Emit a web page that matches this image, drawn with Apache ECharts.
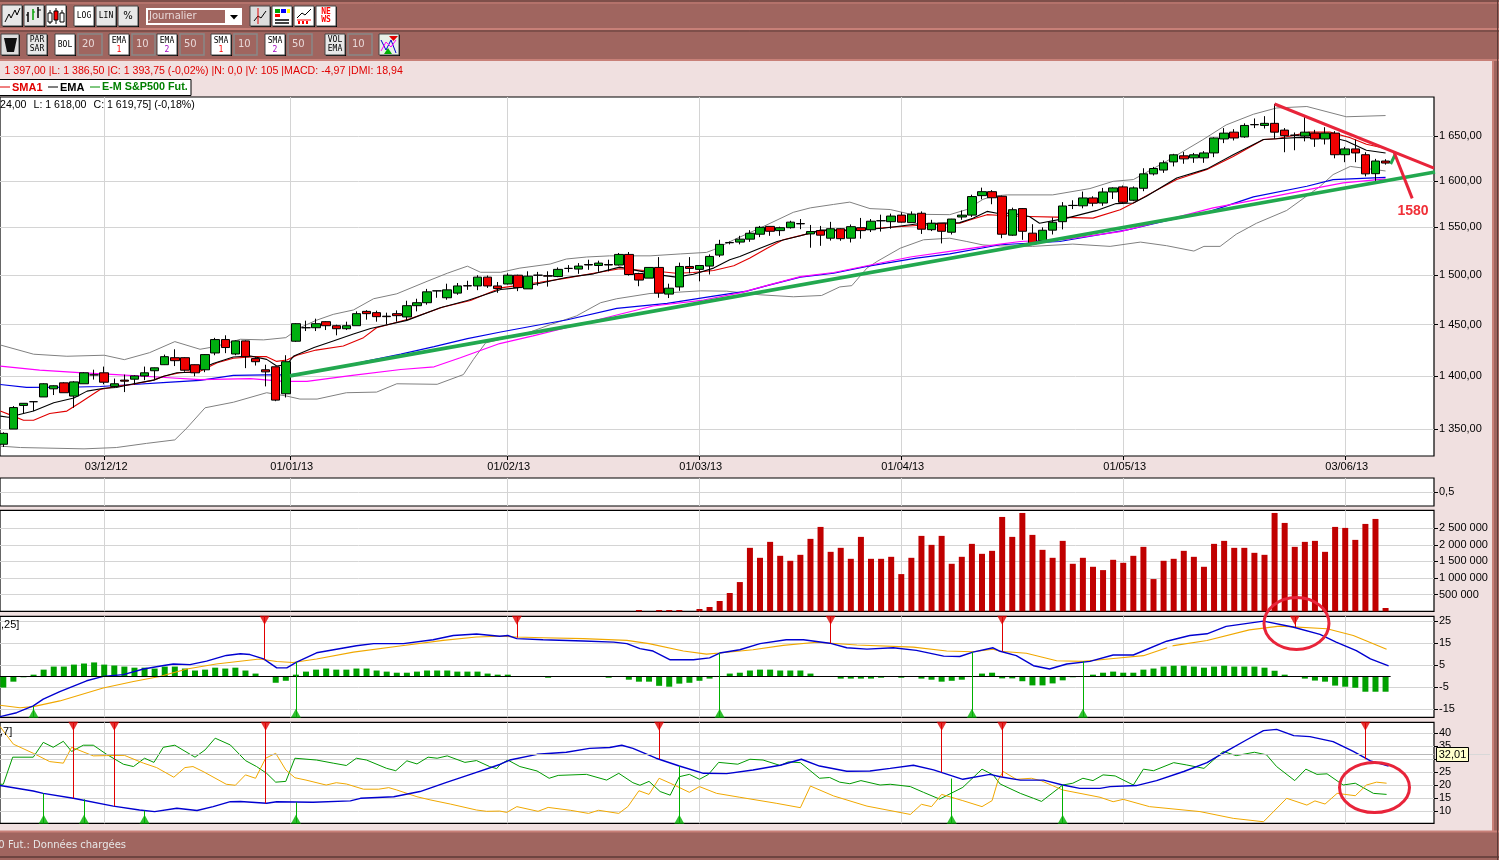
<!DOCTYPE html>
<html><head><meta charset="utf-8">
<script src="https://cdn.jsdelivr.net/npm/echarts@6/dist/echarts.min.js"></script>
<style>html,body{margin:0;padding:0;background:#f0e0e0;overflow:hidden}#c{width:1499px;height:860px}</style>
</head><body><div id="c"></div>
<script>
// open, close, low, high for each trading day
const candles=[
[1336,1346,1333.5,1347],[1350,1370,1350,1371.4],[1372,1374,1364.5,1374],[1375.5,1375.5,1366.7,1375.5],[1380,1392.5,1380,1393],
[1387.7,1390.6,1381.8,1391],[1393.4,1384,1384,1394],[1380.8,1394.3,1369.8,1395],[1392.5,1403,1392.5,1403.6],[1401,1401,1396.5,1406],
[1403,1394,1392,1409],[1390,1392.5,1388.7,1397.5],[1396,1395,1384.6,1401.3],[1396.9,1400,1391.8,1400.6],[1400,1403,1396,1409],
[1405,1407.8,1397,1408],[1410.8,1418.6,1410.5,1420.6],[1417.6,1414.7,1409.5,1425.8],[1417.6,1405.5,1404,1418],[1410.8,1403,1399.7,1411],
[1405.9,1420.6,1403.6,1421],[1422.2,1435.3,1420,1437],[1435.3,1427.5,1422,1439.5],[1421.2,1434,1420,1434.5],[1434,1418.6,1407.5,1434.5],
[1416.7,1413.7,1410,1418],[1405.9,1403.9,1390,1410.8],[1408.8,1377,1376,1409],[1383,1413.7,1379.5,1420],[1433.7,1451,1433,1451.5],
[1447,1447,1443.7,1454],[1447,1451,1443.7,1456],[1453,1449,1444.7,1453.5],[1449,1446,1439.5,1450],[1446,1449,1444.7,1453],
[1449,1461,1449,1463.3],[1463.3,1461,1455,1464.5],[1462,1458,1453,1464],[1458.5,1458,1450.3,1462],[1461,1459,1453,1464.3],
[1457.7,1469,1453.7,1474],[1469,1472,1463.3,1476],[1472,1483,1470,1486],[1484,1484,1477,1484],[1477,1485,1475,1491.3],
[1481.7,1489,1480,1492],[1489.3,1489,1485,1494.3],[1489,1498,1484.7,1500],[1498,1489,1487,1499.7],[1489,1486.3,1482,1493],
[1491,1500,1490.5,1502],[1500,1487.3,1483.7,1500.5],[1486,1499,1486,1504],[1500,1500,1489.3,1503.4],[1499.5,1499,1488.3,1504],
[1498.6,1506,1498,1508],[1507,1507,1503,1510.4],[1506.3,1509.4,1501.4,1512.5],[1511,1510.5,1505.5,1516],[1510,1512.5,1503.5,1515],
[1511,1510.5,1504,1516],[1510.5,1521.5,1510,1523],[1521.5,1500.7,1499.6,1524],[1501.7,1495,1488.7,1502.5],[1497,1508,1497,1508],
[1508,1481.7,1477,1518.7],[1480.7,1486.7,1476.7,1491.3],[1488,1509,1484,1513],[1509,1507,1502,1518.7],[1506,1510,1493.7,1510],
[1509.4,1519.4,1500.7,1521.5],[1520.8,1532,1518.7,1536.8],[1534,1533.7,1532,1535],[1534.4,1537.5,1532,1541],[1537.5,1543.7,1534.7,1547],
[1542.7,1550,1539.6,1551.5],[1551,1545.8,1541,1551],[1546.5,1549.6,1541,1550.7],[1549.6,1555.5,1548.6,1557],[1554,1553.7,1548,1558.8],
[1543,1545.5,1528.5,1552.5],[1546.5,1541.7,1530.5,1551.5],[1538.5,1548.5,1536,1555.8],[1548.5,1538,1535.8,1549],[1538.5,1550.7,1534,1553],
[1549.6,1546.5,1538,1560],[1547.4,1556.5,1545,1558.8],[1557,1557,1545.5,1563.5],[1556,1562,1548.5,1564.6],[1563,1555.5,1555,1566],
[1555,1564,1555,1567],[1565,1548,1543,1567],[1547.5,1554.4,1546,1558],[1554.4,1545.8,1533,1554.4],[1544.8,1558.8,1542.4,1559],
[1561,1563,1558,1568],[1563,1583,1561,1585],[1584,1588.3,1580,1592.7],[1588.3,1581.7,1574.7,1590],[1583.3,1542.7,1538.5,1584],
[1541.7,1568.8,1541,1571],[1570,1545.8,1536.8,1570.5],[1543.8,1532.6,1531.5,1553.3],[1536,1546.9,1535.5,1550],[1547,1555.4,1542.4,1560.5],
[1556,1572.8,1547.8,1577],[1573.5,1573.3,1569.5,1579],[1573,1581.5,1570.3,1588.4],[1581.5,1575.8,1572.5,1583.3],[1576,1588,1573,1592.4],
[1588,1592.4,1580.4,1593],[1593.5,1576.8,1575.4,1595],[1579,1592.4,1578,1594],[1592,1607.8,1588.8,1614],[1607.8,1613.7,1606,1615.5],
[1612,1620,1608.9,1622.6],[1621,1628.9,1616,1630],[1627.8,1624.4,1619,1632],[1625.5,1628.9,1620,1631],[1625.5,1631,1620,1633],
[1631,1647.8,1626.3,1648.5],[1646.7,1653.3,1642,1659],[1654.4,1647.8,1645,1657.8],[1649,1662,1648,1664.4],[1663,1662.8,1659,1670],
[1662,1664.4,1658.5,1672.6],[1664.4,1654.4,1647,1686.7],[1656.7,1650.4,1631.8,1659],[1651,1650.8,1634,1654],[1650,1654.4,1644,1671.8],
[1653.3,1646.7,1637.8,1657],[1646.7,1653.3,1640.5,1660],[1653.3,1629,1625,1655.5],[1629,1635.5,1620.7,1637.8],[1635.5,1631,1620.7,1646],
[1629,1607.8,1605,1631.8],[1608,1622,1599.6,1624.4],[1622,1619.75,1618,1624]];

const bollUpper=[[-.3,1430],[3,1421],[6.3,1419],[10,1420],[12,1415.7],[14.5,1422.5],[17,1433.3],[19.5,1425.8],[21,1428.4],[23.5,1435.6],[25.8,1435],[28,1437.2],[29.4,1447],[31,1454.3],[32.7,1460.3],[34.7,1464.7],[36.7,1476],[39,1481],[42,1493.7],[44,1502],[46,1509.3],[47.3,1503],[49.3,1503],[51.2,1507.3],[54.2,1511.5],[55.8,1516.7],[57.8,1518.8],[60.1,1520],[62.5,1520],[64.1,1520],[67.1,1522],[69.7,1523.6],[70.4,1526.4],[72.4,1536.8],[75.3,1550.7],[78.3,1566],[80,1570.8],[82.3,1574.5],[83.9,1577],[85.9,1570],[87.9,1569],[89.9,1564],[93.8,1563.5],[95.5,1569],[97.1,1580],[98.1,1583.6],[99.5,1584.8],[104,1584.8],[107.7,1591.7],[110,1599.6],[112,1601.5],[115.3,1621.8],[118.9,1645.9],[121.2,1662.6],[123.9,1674.8],[126.2,1682],[129.2,1683.7],[133.1,1671.9],[137,1673.3]];
const bollLower=[[-.3,1334.3],[1.7,1333],[8,1331.8],[11.2,1333],[14.2,1336.8],[17,1340],[18.2,1351],[20,1369.8],[22.8,1375],[26.1,1384],[28.1,1380.8],[29.4,1378],[31.1,1378],[34,1384],[37,1384.6],[39,1392.5],[43,1392],[45.6,1401.3],[46.6,1416],[47.8,1432],[52.2,1442.7],[54.2,1450],[56.8,1458.7],[59.2,1472],[60.8,1476],[64.1,1481.3],[65.8,1482],[69.1,1484],[71.7,1483.7],[75,1480],[78.3,1478],[81.1,1479.3],[82.9,1488],[84.1,1489.3],[85.6,1507.3],[86.6,1514.2],[88.9,1528],[91.2,1536.8],[93.8,1538.5],[95.5,1535],[97.1,1531.4],[98.8,1530.4],[102,1529.9],[106,1532.3],[109.7,1529.9],[112.7,1534.4],[115.3,1530.6],[118,1525],[119,1529.9],[120.6,1529.9],[122.2,1542.7],[124.2,1554.3],[127.2,1568],[130.5,1594],[131.8,1607],[133.5,1616],[137,1611]];
const emaFast=[[-.3,1362],[.5,1361],[3,1366.7],[5,1374.5],[7,1379],[8.3,1385.5],[10,1388.2],[11.2,1389],[12.9,1392.5],[14.9,1396],[15.9,1399.7],[17.2,1403],[18.8,1403.6],[20.8,1412],[22.8,1418.3],[24.5,1419.3],[26.1,1416],[27.1,1409.5],[28.1,1411],[28.8,1419.3],[30.8,1427.5],[32.7,1434],[34.7,1440.7],[36.4,1446.3],[40,1454.3],[43.3,1467],[46,1474.3],[49.3,1485.3],[50.9,1487],[53.2,1491.7],[55.8,1497.6],[58.5,1501.4],[61.1,1508.3],[65,1500.3],[66.7,1498],[68.4,1501],[70.4,1507.3],[72,1516],[73,1519.4],[75,1528],[76.7,1535],[79,1541],[81,1547],[83.9,1547],[87.2,1549],[90.5,1553.6],[94.8,1555],[96.1,1559.7],[97.5,1567],[98.5,1565],[100,1565],[101.7,1561.6],[102.7,1554.3],[105.4,1559.8],[108.3,1567.8],[110.3,1575.4],[112,1576],[113.3,1583.3],[116.3,1603.3],[119.3,1613.3],[121.9,1629],[124.9,1646],[126.2,1647],[128.5,1648.5],[131.8,1648],[133.1,1644.4],[135.1,1634],[137,1631]];
const smaFast=[[-.3,1366.7],[1,1362],[2,1358.2],[3,1358.2],[4.6,1364.5],[6.3,1366.7],[7.6,1374.5],[9.6,1387],[11.2,1390],[12.9,1392],[14.9,1396],[15.9,1399.7],[17.5,1403],[19.5,1404.6],[21.2,1412.7],[22.8,1417],[24.8,1418.6],[26.1,1418.6],[27.1,1414],[28.1,1415.4],[29.1,1420],[31,1425],[33.7,1429],[35.7,1437.2],[37,1447],[40.3,1456],[43.6,1467.7],[46.3,1474.3],[49.3,1487],[50.9,1489.3],[53.2,1492.7],[55.8,1497],[58.5,1502],[61.1,1506.6],[65,1503.8],[66.7,1502],[68.4,1502.8],[70.4,1504.9],[72.4,1509.7],[74,1517.7],[75.7,1528],[77.3,1536.8],[79.3,1542],[81,1546.5],[83.9,1546.5],[87.2,1549.6],[90.5,1552],[94.8,1554.4],[96.1,1558.8],[97.5,1563.5],[98.5,1562.8],[100,1562],[101.6,1561.6],[104.4,1560.9],[108,1559.8],[110.7,1568.8],[112,1576],[113.3,1584],[116.3,1601.5],[119.3,1612.5],[121.9,1627],[124.9,1646],[126.2,1647],[129.5,1654.4],[131.5,1654.4],[133.5,1648],[135.1,1640.7],[137,1636]];
const emaSlow=[[-.3,1391.8],[2.3,1389],[6.3,1389.2],[9.6,1389.9],[12.9,1391.8],[16.2,1393.8],[19.5,1395.8],[22.8,1400.6],[26.1,1401],[28.4,1401],[32.7,1406.9],[36,1414.4],[39.4,1421],[42.7,1428.4],[46,1436.3],[49.3,1442.8],[52.5,1448.7],[55.8,1454.7],[60.8,1466.3],[65.8,1471.3],[70.4,1478.7],[73.7,1483.7],[75.7,1489.3],[79,1498],[82.3,1502],[85.6,1509],[90.5,1517.7],[93.8,1522],[98.8,1531.6],[104.7,1535],[111.4,1547.2],[115.3,1557.2],[119.3,1566],[123.9,1582.6],[129.2,1594.2],[131.8,1601.5],[137,1604]];
const smaSlow=[[-.3,1409.5],[3.6,1405.6],[7.9,1403],[11.2,1401.3],[15.2,1399],[19.5,1396.4],[24.5,1397.4],[27.8,1394.8],[30.1,1394.8],[34.4,1400.3],[39.4,1406.2],[42.7,1408.8],[45.3,1417.6],[49.2,1431.4],[52.5,1438.9],[56.5,1448.7],[60.4,1458.7],[64.4,1468.7],[69.4,1474.7],[73,1482],[76,1490.3],[79,1498.6],[82.3,1502.8],[85.6,1509.7],[89.9,1518.8],[93.8,1524.7],[98.8,1532.3],[100.8,1535],[105.4,1537.5],[110.7,1545.5],[115.3,1558],[119.9,1570.7],[125.2,1581.5],[130.2,1592.4],[132.8,1598],[137,1602.2]];
const emTrend=[[28.4,1400],[141.9,1609.8]];
const redTrend=[[126,1686.6],[141.8,1614.2]];
const redArrow=[[137.86,1631.2],[139.64,1581]];
const greenArrow=[[137.5,1618.7],[137.93,1628.7]];

const volumes=[0,0,0,0,0,0,0,0,0,0,0,0,0,0,0,0,0,0,0,0,0,0,0,0,0,0,0,0,0,0,0,0,0,0,0,0,0,0,0,0,0,0,0,0,0,0,0,0,0,0,0,0,0,0,0,0,0,0,0,0,0,0,0,
40000,0,40000,40000,40000,0,70000,130000,310000,550000,880000,1910000,1610000,2090000,1670000,1520000,1700000,2180000,2540000,1790000,1910000,1580000,2240000,1580000,1580000,1640000,1120000,1610000,2270000,2000000,2270000,1430000,1640000,2030000,1730000,1820000,2840000,2240000,2960000,2300000,1850000,1610000,2120000,1430000,1610000,1340000,1240000,1550000,1460000,1670000,1940000,970000,1520000,1580000,1820000,1640000,1340000,2030000,2120000,1910000,1910000,1760000,1700000,2960000,2660000,1940000,2090000,2120000,1790000,2540000,2510000,2150000,2630000,2780000,100000];

const macdHist=[-5.3,-2.6,-.6,.6,2.9,4.3,4.3,5.2,5.7,6.2,5.2,4.8,4.3,3.8,3.8,3.4,4.3,4.3,3.4,2.5,2.9,3.8,3.4,3.8,2.5,1.1,0,-3.1,-2.2,.6,2,2.9,3.4,2.9,2.9,3.4,3.4,2.5,2,1.5,1.5,2,2.5,2.5,2.5,2,2,2,1.1,.6,.6,0,0,0,-.8,0,0,0,0,0,-.8,0,-1.7,-2.6,-2.6,-4.5,-4.9,-3.5,-3.1,-2.2,-1.2,0,1.1,1.5,2.5,2.9,2.9,2.5,2.5,2.5,1.1,0,0,-1.2,-1.2,-1.2,-1.2,-.8,0,-.8,0,-1.2,-1.7,-2.6,-2.2,-1.7,0,1.1,1.5,-1.1,-1.1,-2.4,-4.3,-4.3,-3.4,-2,-.6,0,.6,1.5,2,1.5,1.5,2.9,3.4,4.3,4.7,4.7,4.3,3.8,4.3,4.7,4.3,4.3,4.3,3.8,2.4,.6,0,-1.2,-2.1,-2.6,-4.4,-4.9,-5.4,-7.2,-7.2,-7.2];
const macdLine=[[-.33,-18.6],[1.32,-16.8],[2.97,-13.7],[3.96,-10.6],[5.6,-7.2],[8.26,-2.2],[9.9,-.2],[11.9,.6],[13.9,3.2],[15.9,4.8],[16.85,5.5],[18.5,5.2],[20.15,6.8],[22.1,9.4],[23.5,10.2],[24.45,9.8],[25.8,7.8],[27.1,3.7],[28.1,3.7],[29.07,6.3],[31.05,10.6],[35,13.8],[36.7,14.8],[39.65,14.8],[42.6,16.6],[44.6,18.5],[46.9,19.2],[49.2,18.2],[50,18.5],[50.9,17.1],[53.5,16.6],[57.5,16],[60.5,15.5],[61.8,14.8],[63.1,12.5],[64.4,11.4],[66.1,7.4],[68.4,7.4],[70,8.3],[71,10.5],[73,12],[75,14.8],[77.6,16.6],[79.3,16.6],[81.9,15],[83.6,12.9],[85.6,12.3],[88.2,12.9],[90.5,11.7],[93.2,9.1],[94.8,8.9],[96.1,10.9],[98.1,12.9],[98.8,11.3],[100.4,9.3],[102.1,4.7],[103.7,3.2],[105.4,5.5],[107.7,6.7],[110,9.6],[112,9.6],[115.3,15.9],[117.6,18.5],[119.3,19.3],[121.2,22.7],[124.9,25.1],[127.8,22.4],[130.5,19],[132.1,15.5],[134.1,11.6],[135.5,7.8],[137.3,4.6]];
const macdSignal=[[-.33,-13.4],[1.65,-14.5],[2.97,-14],[5.6,-11.4],[9.9,-5.5],[12.9,-2.5],[15.5,-.2],[18.2,3.2],[21.1,5.5],[25.4,7.8],[27.1,6.6],[28.7,6.2],[31.05,7.8],[34.7,10.9],[39.3,13.7],[43.6,16.3],[46.9,17.8],[49.2,18.2],[50.9,17.8],[53.5,17.5],[57.5,17.1],[61.8,16.3],[64,14.8],[67.4,11.4],[69.7,10],[71,10.5],[74.3,12],[77.3,14],[80.6,15.4],[84.6,14.2],[90.2,13.2],[93.5,11.4],[96.1,11.1],[98.1,12.2],[98.8,11.3],[101.4,10.4],[104.4,7],[107,6.7],[110.3,8.1],[113,9.3],[116,13.9],[119.3,16.2],[123.5,21.1],[126.5,22.8],[131.2,21.6],[133.8,18.5],[137.1,12.2]];
const macdSell=[[25.9,7.4],[50.9,17.5],[82,15],[99,11.3],[128,22.4]];
const macdBuy=[[3,-13.9],[29,6.3],[71,10.5],[96,10.9],[107,6.7]];
const macdRing=[[115.6,13.5]];

const adxLine=[[-.33,19.9],[2.97,17.8],[3.96,16.9],[6.94,15],[10.9,12],[13.5,10.5],[15,9.9],[17.2,11.2],[19.2,10.3],[20.8,11.8],[22.5,13.7],[23.5,13.8],[26.1,13.1],[27.1,13.7],[30.7,13.5],[34.4,14],[35.4,15],[38.7,15.6],[41.3,17.6],[44,21.2],[46.6,24.6],[49.2,28],[50.2,29.7],[52.9,31.9],[55.8,32.7],[58.1,34.2],[60.1,34.5],[61.3,35.4],[62.4,34.2],[64.7,30.4],[67,27.4],[69.4,24.6],[71.7,24.5],[74.3,25.9],[77,27.7],[79.1,30],[80.9,27.4],[83.6,25.4],[85.9,25.5],[87.9,26.5],[90.2,27.7],[92.2,25.9],[95.1,22.3],[97.8,24.2],[98.8,23.3],[100.8,22],[103.1,22],[105,20.1],[106.7,18.8],[108.7,18.8],[109.7,19.5],[112.3,19.9],[114.3,21.8],[117,25.3],[119.3,28.7],[121.2,33],[123.2,37.4],[124.9,41],[126.2,41.5],[127.9,39.1],[129.5,38.7],[131.8,36.8],[133.8,33],[135.5,29.4],[137.3,27.4]];
const diPlus=[[-.33,20.4],[0,20.4],[.93,30.8],[2.97,30.8],[3.96,36.5],[4.95,34.6],[5.95,36.9],[6.77,33],[7.93,35.4],[8.92,35.4],[10.24,31.9],[11.9,28.1],[12.9,27.2],[14,30.4],[14.93,28.8],[15.86,34.6],[17,35.4],[19,30.8],[20,33.6],[21,38.1],[22.5,35.5],[24,29.5],[25.1,27.2],[26.1,24.6],[27,21.2],[28,21.5],[28.9,30.4],[31.05,29.7],[32.7,28.5],[34,27.6],[35,30.4],[36,29.7],[38,26.5],[38.9,25.6],[40,29.4],[41,28.2],[42.1,30.8],[43,30.4],[44,31.3],[45.75,28.8],[46.9,29.5],[48.2,27.2],[48.9,26.4],[49.2,27.8],[50,29.7],[51.2,27.2],[52.9,25.5],[54.1,22.7],[55,23.8],[57.8,24.2],[59.8,22],[61,24.6],[62.4,21],[63.1,20],[64,21.5],[65.1,17.6],[66.1,16.2],[67,23.3],[68,24.2],[69,22.3],[69.9,24.2],[70.9,28.8],[72.8,28.1],[74,30],[75.3,29.7],[77,27.6],[77.8,29],[79,28.7],[80.9,22.7],[81.9,23],[82.9,21.2],[83.9,20.6],[85,21.8],[86.9,20.1],[87.9,20.4],[89.9,19.5],[91.2,17.3],[92.8,14.7],[95.1,19.2],[97,26.2],[98.1,24],[98.8,20.5],[100.8,16.9],[102.1,15],[102.9,13.8],[105,20.1],[106,20.8],[107,22.7],[108,21.8],[109,24],[110.2,23.6],[112,20.1],[113,26.2],[114,25.6],[116,28.7],[117.3,27.8],[119,26.5],[120.9,33],[122.2,31.4],[124,32.7],[125.2,31.7],[126.2,27.2],[128,21.8],[129.1,26.2],[130.2,24.2],[131.2,24.4],[132.8,20.1],[134,20.8],[135.8,16.9],[137.1,16.5]];
const diMinus=[[-.33,42.6],[1,35.8],[2.97,32.3],[4.6,29.1],[5.95,28.5],[6.77,34.6],[8.92,31.3],[10.24,31.4],[12,31.5],[13.9,28.5],[15.2,26.8],[16.9,23.1],[18,26.8],[18.8,27.2],[19.8,25.3],[22.1,20.4],[23,20],[24,24],[25,22.7],[26,30.4],[27,32.3],[28,25.9],[28.9,22.9],[30,22],[32,20.1],[33,21],[34,20.5],[35.7,18.5],[37.2,18.5],[38.2,19.1],[39,18.2],[41,15.6],[42.3,14.4],[44.3,12.8],[46.9,10.5],[47.9,10],[49.2,10.1],[49.9,9.6],[50.9,11.8],[53,10],[54,11.5],[56.2,10.4],[58,9.2],[59,10.4],[61,9.2],[61.9,11.8],[63,17.9],[64,16.5],[65,22.7],[66.1,20.8],[68,17.3],[69,19.5],[70.7,16.9],[73,15.4],[76.6,13.1],[79,11.4],[80,19.7],[82.3,15.9],[85.6,12],[89.9,8.8],[91,12.7],[92,11.8],[93,16.5],[95.1,14.1],[97,11.8],[98,14.1],[98.6,22],[99.1,25.3],[100.4,22.3],[101.9,22.7],[102.9,21.7],[105,18.2],[108.7,15.4],[110,13.7],[111,14.6],[113.6,11.8],[118.6,9.9],[121.9,7.3],[124.9,6],[127.2,15],[129.2,12.4],[130,14],[131,12.8],[132.2,16.9],[134,16],[135.1,20.1],[136.1,21.2],[137.1,20.8]];
const dmiSell=[[6.94,15],[11,12],[26,13.1],[65,30.1],[93,25],[99,23.3],[135,30]];
const dmiBuy=[[4,16.9],[8,14.6],[14,10.3],[29,13.5],[67,27.4],[94,22.6],[105,20.1]];

const dateTicks=[10.05,28.44,49.95,68.98,89,111,133];
const dateLabels=['03/12/12','01/01/13','01/02/13','01/03/13','01/04/13','01/05/13','03/06/13'];
const priceTicks=[1350,1400,1450,1500,1550,1600,1650];
const volTicks=[500000,1000000,1500000,2000000,2500000];
const macdTicks=[-15,-5,5,15,25];
const dmiTicks=[10,15,20,25,30,35,40];
const cursorValue=32.01;

const FONT='"DejaVu Sans"';
const AXFONT='"Liberation Sans"';
const GRID='#d4d4d4';
const xMin=-0.327,xMax=141.8;
const thousand=n=>String(Math.round(n)).replace(/\B(?=(\d{3})+$)/g,' ');
const L=p=>Math.log(p);
const priceLine=a=>a.map(d=>[d[0],L(d[1])]);
const sorted=a=>a.slice().sort((p,q)=>p[0]-q[0]);

const grids=[
 {top:97,height:359},{top:478,height:28},{top:510.3,height:101},{top:616.3,height:101},{top:722.3,height:101}
].map(g=>({left:0,width:1434,top:g.top,height:g.height,show:true,backgroundColor:'#fff',borderColor:'#000',borderWidth:1.2,containLabel:false}));

const xAxes=grids.map((g,k)=>({
 type:'value',gridIndex:k,min:xMin,max:xMax,position:'bottom',
 axisLine:{show:false,onZero:false},
 axisTick:{show:k===0,length:4,lineStyle:{color:'#000'},customValues:dateTicks},
 axisLabel:k===0?{show:true,color:'#000',fontFamily:AXFONT,fontSize:11,margin:5,padding:[0,0,0,3],customValues:dateTicks,
   hideOverlap:false,formatter:v=>dateLabels[dateTicks.indexOf(v)]||''}:{show:false},
 splitLine:{show:true,lineStyle:{color:GRID,width:1}}
}));
function yAx(k,min,max,ticks,fmt){return {
 type:'value',gridIndex:k,position:'right',min,max,scale:true,
 axisLine:{show:false,onZero:false},
 axisTick:{show:true,length:4,lineStyle:{color:'#000'},customValues:ticks},
 axisLabel:{show:true,color:'#000',fontFamily:AXFONT,fontSize:11,margin:5,customValues:ticks,hideOverlap:false,formatter:fmt},
 splitLine:{show:true,lineStyle:{color:GRID,width:1}}
};}
const yAxes=[
 yAx(0,L(1325.3),L(1694.7),priceTicks.map(L),v=>{const p=Math.round(Math.exp(v));return thousand(p)+',00';}),
 yAx(1,0,1,[0.5],v=>'0,5'),
 yAx(2,0,3040000,volTicks,v=>thousand(v)),
 yAx(3,-18.9,27.3,macdTicks,v=>String(v)),
 yAx(4,5.4,44.2,dmiTicks,v=>String(v))
];

function ln(name,data,color,width,k){return {name,type:'line',xAxisIndex:k,yAxisIndex:k,data,showSymbol:false,symbol:'none',
 lineStyle:{color,width},itemStyle:{color},silent:true,animation:false,z:3,clip:true};}

function signals(sell,buy,k,top,bottom){
 const line=(arr,edge,color)=>({type:'line',xAxisIndex:k,yAxisIndex:k,data:[],showSymbol:false,animation:false,silent:true,z:4,
   markLine:{silent:true,symbol:'none',label:{show:false},animation:false,lineStyle:{color,width:1,type:'solid'},
     data:arr.map(d=>[{coord:[d[0],edge]},{coord:[d[0],d[1]]}])}});
 const tri=(arr,edge,color,rot,off)=>({type:'scatter',xAxisIndex:k,yAxisIndex:k,data:arr.map(d=>[d[0],edge]),symbol:'triangle',
   symbolSize:[10,9],symbolRotate:rot,symbolOffset:[0,off],itemStyle:{color},animation:false,silent:true,z:5,clip:false});
 return [line(sell,top,'#e00000'),line(buy,bottom,'#00b000'),tri(sell,top,'#e00000',180,4),tri(buy,bottom,'#00b000',0,-4)];
}

const series=[
 ln('BollU',priceLine(bollUpper),'#808080',1,0),
 ln('BollL',priceLine(bollLower),'#808080',1,0),
 ln('EMA2',priceLine(emaSlow),'#0000e6',1.2,0),
 ln('SMA2',priceLine(smaSlow),'#ff00ff',1.2,0),
 ln('SMA1',priceLine(smaFast),'#e00000',1.1,0),
 ln('EMA1',priceLine(emaFast),'#000',1.1,0),
 {name:'E-M S&P500 Fut.',type:'candlestick',xAxisIndex:0,yAxisIndex:0,barWidth:9,animation:false,silent:true,z:4,
  data:candles.map((c,i)=>[i,L(c[0]),L(c[1]),L(c[2]),L(c[3])]),
  itemStyle:{color:'#00b010',color0:'#f00000',borderColor:'#000',borderColor0:'#000',borderWidth:1}},
 {...ln('trendG',priceLine(emTrend),'#22a84f',3.7,0),z:6},
 {...ln('trendR',priceLine(redTrend),'#e8243a',3,0),z:7},
 {...ln('arrowR',priceLine(redArrow),'#e8243a',3,0),z:7},
 {...ln('arrowG',priceLine(greenArrow),'#22a84f',3,0),z:6},
 {name:'Volume',type:'bar',xAxisIndex:2,yAxisIndex:2,barWidth:6,animation:false,silent:true,z:3,
  data:volumes.map((v,i)=>[i,v]),itemStyle:{color:'#c00000'}},
 {name:'Hist',type:'bar',xAxisIndex:3,yAxisIndex:3,barWidth:6,animation:false,silent:true,z:2,
  data:macdHist.map((v,i)=>[i,v]),itemStyle:{color:'#00a000'},
  markLine:{silent:true,symbol:'none',label:{show:false},animation:false,lineStyle:{color:'#000',width:1.2,type:'solid'},
   data:[[{coord:[xMin,0]},{coord:[137.5,0]}]]}},
 ln('Signal',sorted(macdSignal),'#f0a800',1.1,3),
 ln('MACD',sorted(macdLine),'#0000d0',1.4,3),
 ...signals(macdSell,macdBuy,3,27.3,-18.9),
 {type:'scatter',xAxisIndex:3,yAxisIndex:3,data:macdRing,symbol:'emptyCircle',symbolSize:4,itemStyle:{color:'#fff',borderColor:'#e00000',borderWidth:1},animation:false,silent:true,z:5},
 {type:'line',xAxisIndex:4,yAxisIndex:4,data:[],showSymbol:false,animation:false,silent:true,z:2,
  markLine:{silent:true,symbol:'none',label:{show:false},animation:false,lineStyle:{color:'#b8b8b8',width:1.2,type:'solid'},
   data:[[{coord:[xMin,cursorValue]},{coord:[xMax,cursorValue]}]]}},
 ln('DI+',sorted(diPlus),'#009a00',1,4),
 ln('DI-',sorted(diMinus),'#f0a800',1,4),
 ln('ADX',sorted(adxLine),'#0000d0',1.4,4),
 ...signals(dmiSell,dmiBuy,4,44.2,5.4)
];

// window chrome
const BROWN='#a0655f',SALMON='#c88078',DARK='#5c3a36';
const G=[];
const rect=(x,y,w,h,fill,stroke,lw,z)=>G.push({type:'rect',shape:{x,y,width:w,height:h},style:{fill,stroke:stroke||null,lineWidth:lw||1},z:z||0,silent:true});
const line=(x1,y1,x2,y2,stroke,lw,z)=>G.push({type:'line',shape:{x1,y1,x2,y2},style:{stroke,lineWidth:lw||1},z:z||1,silent:true});
const poly=(pts,stroke,lw,z)=>G.push({type:'polyline',shape:{points:pts},style:{stroke,lineWidth:lw||1,fill:null},z:z||1,silent:true});
const txt=(t,x,y,font,fill,align,z)=>G.push({type:'text',x,y,style:{text:t,font,fill,align:align||'left',verticalAlign:'middle'},z:z||2,silent:true});
rect(0,0,1499,61,BROWN);
line(0,1,1499,1,DARK,1);line(0,3,1499,3,SALMON,1);
line(0,29,1499,29,SALMON,2);line(0,31,1499,31,DARK,1);
line(0,60,1499,60,SALMON,2);
rect(0,831,1499,29,BROWN);line(0,831.5,1499,831.5,SALMON,2);line(0,857,1499,857,DARK,1.5);
rect(1492,0,7,860,BROWN);line(1493,60,1493,832,SALMON,2);line(1497.5,0,1497.5,860,DARK,1);

function btn(x,y,w,h,fill,labels){
 rect(x+1,y+1,w,h,'#000');
 rect(x,y,w,h,fill||'#fff','#444',1);
 (labels||[]).forEach(l=>txt(l[0],x+w/2,y+l[1],'8px "DejaVu Sans Mono"',l[2]||'#000','center'));
}
const box=(x,y,w,h,t)=>{rect(x,y,w,h,BROWN,'#888',1.5);txt(t,x+4,y+h/2,'10px '+FONT,'#e8d8d8');};
// first row
btn(2,5,20,21,'#e8e8e8');poly([[5,22],[9,14],[11,18],[15,10],[17,15],[20,8]],'#000',1);
btn(24,5,20,21,'#e8e8e8');
 [[28,12,22],[33,9,20],[38,7,18]].forEach(a=>line(a[0],a[1],a[0],a[2],a[0]==33?'#00a000':'#000',1.5));
 line(26,15,28,15,'#000');line(33,12,35,12,'#00a000');line(38,10,41,10,'#000');
btn(46,5,20,21,'#fff');
 [[50,10,24,'#fff'],[56,8,24,'#f00'],[62,10,22,'#fff']].forEach(a=>{line(a[0],a[1],a[0],a[2],'#000');rect(a[0]-2,a[1]+3,4,9,a[3],'#000',1,2);});
btn(74,6,20,20,'#fff',[['LOG',10]]);
btn(96,6,20,20,'#e8e8e8',[['LIN',10]]);
btn(118,6,20,20,'#e8e8e8');txt('%',128,16,'10px '+FONT,'#000','center');
rect(146,8,96,17,'#fff');rect(148,10,77,13,BROWN);
txt('Journalier',149,16.5,'10px '+FONT,'#e8d8d8');
G.push({type:'polygon',shape:{points:[[230,15],[238,15],[234,19.5]]},style:{fill:'#000'},z:2,silent:true});
[250,272,294,316].forEach((x,i)=>{btn(x,6,20,20,i===0?'#ddd':'#fff');});
 poly([[254,21],[258,16],[261,18],[266,11]],'#000',1);line(258,8,258,24,'#e00000',1);
 rect(275,9,5,4,'#00a000',null,1,2);rect(281,9,5,4,'#00f',null,1,2);rect(287,9,3,4,'#ff0',null,1,2);rect(275,14,5,3,'#f00',null,1,2);line(275,20,289,20,'#000',1.5);line(275,23,289,23,'#000',1.5);
 poly([[297,18],[302,13],[305,15],[311,9]],'#000',1);line(297,20,311,20,'#f00',1);line(299,21,299,24,'#f00',2);line(303,21,303,24,'#f00',2);line(307,21,307,24,'#f00',2);
 txt('NE',326,11.5,'bold 8px "DejaVu Sans Mono"','#f00','center');txt('WS',326,20,'bold 8px "DejaVu Sans Mono"','#f00','center');
// second row
btn(1,34,18,21,'#ddd');G.push({type:'polygon',shape:{points:[[4,38],[17,38],[14,52],[7,52]]},style:{fill:'#111'},z:2,silent:true});
btn(27,34,20,21,'#e8e8e8',[['PAR',6],['SAR',15]]);
btn(55,34,20,21,'#fff',[['BOL',11]]);
box(78,34,24,21,'20');
btn(109,34,20,21,'#fff',[['EMA',7],['1',16,'#f00']]);box(132,34,23,21,'10');
btn(157,34,20,21,'#fff',[['EMA',7],['2',16,'#a000c0']]);box(180,34,24,21,'50');
btn(211,34,20,21,'#fff',[['SMA',7],['1',16,'#f00']]);box(234,34,23,21,'10');
btn(265,34,20,21,'#fff',[['SMA',7],['2',16,'#a000c0']]);box(288,34,24,21,'50');
btn(325,34,20,21,'#e8e8e8',[['VOL',6],['EMA',15]]);box(348,34,24,21,'10');
btn(379,34,20,21,'#e8f0e8');
 poly([[381,40],[386,50],[391,40],[396,53]],'#0000d0',1);poly([[381,51],[386,42],[391,47],[396,40]],'#ff00ff',1);
 G.push({type:'polygon',shape:{points:[[389,36],[398,36],[393.5,41]]},style:{fill:'#e00000'},z:3,silent:true});
 G.push({type:'polygon',shape:{points:[[384,54],[392,54],[388,48]]},style:{fill:'#00b000'},z:3,silent:true});
// info rows
txt('1 397,00 |L: 1 386,50 |C: 1 393,75 (-0,02%) |N: 0,0 |V: 105 |MACD: -4,97 |DMI: 18,94',4.5,71.5,'10.6px '+AXFONT,'#e00000');
rect(-2,79.5,193,16,'#fff','#000',1);
line(0,87,10,87,'#e00000',1);txt('SMA1',12,87.5,'bold 11px '+AXFONT,'#e00000');
line(48,87,58,87,'#000',1);txt('EMA',60,87.5,'bold 11px '+AXFONT,'#000');
line(90,87,100,87,'#009000',1);txt('E-M S&P500 Fut.',102,87.5,'bold 10.8px '+AXFONT,'#008000');
txt('24,00',0,105,'10.6px '+AXFONT,'#000','left',20);
txt('L: 1 618,00',33.5,105,'10.6px '+AXFONT,'#000','left',20);
txt('C: 1 619,75] (-0,18%)',93.5,105,'10.6px '+AXFONT,'#000','left',20);
txt(',25]',1,625,'11px '+AXFONT,'#000','left',20);
txt(',7]',0,731.5,'11px '+AXFONT,'#000','left',20);
txt('00 Fut.: Données chargées',-8,845,'10px '+FONT,'#e8e8e8');
// annotations
G.push({type:'ellipse',shape:{cx:1296.5,cy:623.5,rx:32.5,ry:26},style:{fill:null,stroke:'#e8243a',lineWidth:3},z:30,silent:true});
G.push({type:'ellipse',shape:{cx:1374.5,cy:787.5,rx:35,ry:25},style:{fill:null,stroke:'#e8243a',lineWidth:3},z:30,silent:true});
txt('1580',1413,211,'bold 14px "Liberation Sans"','#f03038','center',30);
// cursor tag
line(1468,754.5,1490,754.5,'#d8d8d8',1,1);
rect(1436.5,747.5,32,14,'#ffffcc','#000',1,30);
txt('32,01',1452.5,755,'11px '+AXFONT,'#000','center',31);

const chart=echarts.init(document.getElementById('c'),null,{renderer:'canvas',width:1499,height:860});
chart.setOption({animation:false,backgroundColor:'#f0e0e0',tooltip:{show:false},legend:{show:false},
 grid:grids,xAxis:xAxes,yAxis:yAxes,series,graphic:{elements:G}});
</script></body></html>
